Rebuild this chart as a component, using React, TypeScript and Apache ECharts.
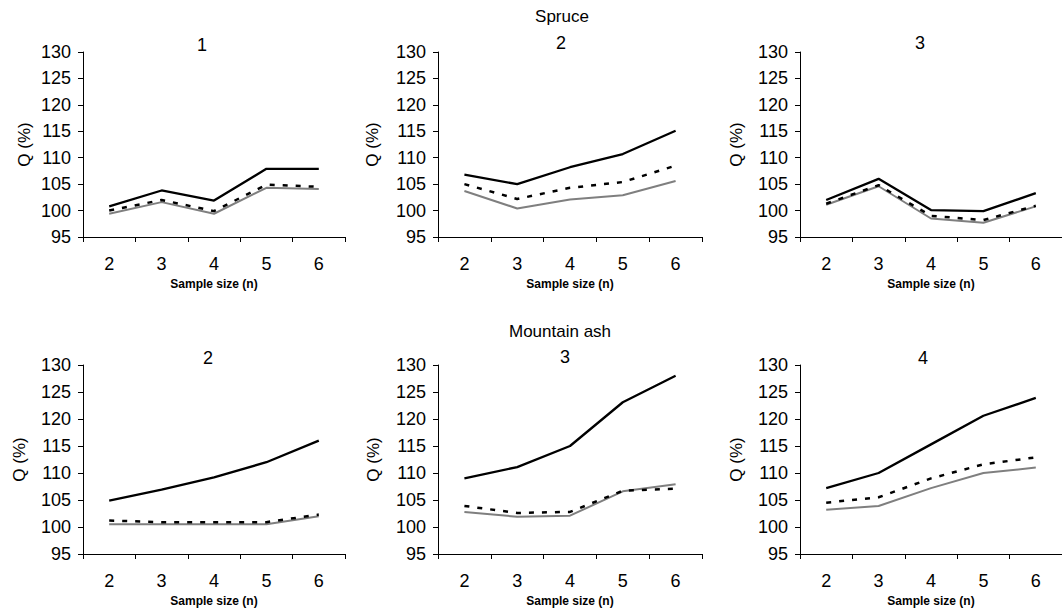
import React, { useEffect, useRef } from "react";
import * as echarts from "echarts";

const categories = ["2", "3", "4", "5", "6"];
const yTicks = { min: 95, max: 130, step: 5 };

// Spruce
const spruce1Black = [100.8, 103.8, 101.9, 107.9, 107.9];
const spruce1Dash = [100.0, 102.0, 99.9, 104.9, 104.5];
const spruce1Gray = [99.4, 101.6, 99.4, 104.3, 104.1];

const spruce2Black = [106.8, 105.0, 108.2, 110.7, 115.1];
const spruce2Dash = [105.0, 102.2, 104.3, 105.4, 108.5];
const spruce2Gray = [103.7, 100.4, 102.1, 102.9, 105.6];

const spruce3Black = [102.0, 106.0, 100.1, 99.9, 103.3];
const spruce3Dash = [101.3, 104.8, 99.0, 98.2, 100.9];
const spruce3Gray = [101.1, 104.6, 98.5, 97.7, 100.8];

// Mountain ash
const ash2Black = [104.9, 106.9, 109.2, 112.0, 116.0];
const ash2Dash = [101.2, 100.9, 100.9, 100.9, 102.3];
const ash2Gray = [100.5, 100.5, 100.5, 100.5, 102.0];

const ash3Black = [109.0, 111.1, 115.0, 123.1, 128.0];
const ash3Dash = [103.9, 102.6, 102.8, 106.7, 107.1];
const ash3Gray = [102.8, 101.9, 102.1, 106.6, 107.9];

const ash4Black = [107.2, 110.0, 115.3, 120.6, 123.9];
const ash4Dash = [104.5, 105.5, 109.0, 111.6, 112.9];
const ash4Gray = [103.2, 103.9, 107.2, 110.0, 111.0];

const panelTitles = ["1", "2", "3", "2", "3", "4"];
const groupTitles = ["Spruce", "Mountain ash"];
const xName = "Sample size (n)";
const yName = "Q (%)";

const panelData = [
  [spruce1Black, spruce1Dash, spruce1Gray],
  [spruce2Black, spruce2Dash, spruce2Gray],
  [spruce3Black, spruce3Dash, spruce3Gray],
  [ash2Black, ash2Dash, ash2Gray],
  [ash3Black, ash3Dash, ash3Gray],
  [ash4Black, ash4Dash, ash4Gray],
];

const FONT = "'Liberation Sans', Arial, sans-serif";

export default function App() {
  const ref = useRef<HTMLDivElement>(null);
  useEffect(() => {
    if (!ref.current) return;
    const chart = echarts.init(ref.current, undefined, { renderer: "svg" });

    const cols = [
      { left: 83, width: 262 },
      { left: 438, width: 264 },
      { left: 800, width: 262 },
    ];
    const rows = [
      { top: 52, height: 185 },
      { top: 365, height: 189 },
    ];
    const yNameGaps = [50, 57, 55, 55, 56, 55];
    const titlePos = [
      [202, 45],
      [561, 43],
      [920, 43],
      [208, 358],
      [565, 357],
      [923, 358],
    ];

    const grids: any[] = [];
    const xAxes: any[] = [];
    const yAxes: any[] = [];
    const series: any[] = [];
    const graphics: any[] = [];

    panelData.forEach((lines, i) => {
      const c = cols[i % 3];
      const r = rows[Math.floor(i / 3)];
      grids.push({ left: c.left, width: c.width, top: r.top, height: r.height, containLabel: false });
      xAxes.push({
        type: "category",
        gridIndex: i,
        data: categories,
        boundaryGap: true,
        axisLine: { lineStyle: { color: "#000", width: 1 } },
        axisTick: { show: true, length: 5, lineStyle: { color: "#000" } },
        axisLabel: { color: "#000", fontSize: 18, fontFamily: FONT, margin: 18 },
        name: xName,
        nameLocation: "middle",
        nameGap: 41,
        nameTextStyle: { color: "#000", fontSize: 12, fontWeight: "bold", fontFamily: FONT },
        splitLine: { show: false },
      });
      yAxes.push({
        type: "value",
        gridIndex: i,
        min: yTicks.min,
        max: yTicks.max,
        interval: yTicks.step,
        axisLine: { show: true, lineStyle: { color: "#000", width: 1 } },
        axisTick: { show: true, length: 5, lineStyle: { color: "#000" } },
        axisLabel: { color: "#000", fontSize: 18, fontFamily: FONT, margin: 12 },
        splitLine: { show: false },
        name: yName,
        nameLocation: "middle",
        nameGap: yNameGaps[i],
        nameRotate: 90,
        nameTextStyle: { color: "#000", fontSize: 17, fontFamily: FONT },
      });
      const styles = [
        { color: "#000", width: 2.3, type: "solid" },
        { color: "#000", width: 2.5, type: [5, 8] },
        { color: "#7f7f7f", width: 2, type: "solid" },
      ];
      const order = [2, 1, 0];
      order.forEach((k) => {
        series.push({
          type: "line",
          xAxisIndex: i,
          yAxisIndex: i,
          data: lines[k],
          showSymbol: false,
          symbol: "none",
          lineStyle: styles[k],
          z: 2 + (2 - k),
        });
      });
      graphics.push({
        type: "text",
        x: titlePos[i][0],
        y: titlePos[i][1],
        style: {
          text: panelTitles[i],
          font: `18px ${FONT}`,
          fill: "#000",
          align: "center",
          verticalAlign: "middle",
        },
      });
    });

    graphics.push({
      type: "text",
      x: 562,
      y: 16,
      style: { text: groupTitles[0], font: `17px ${FONT}`, fill: "#000", align: "center", verticalAlign: "middle" },
    });
    graphics.push({
      type: "text",
      x: 560,
      y: 331,
      style: { text: groupTitles[1], font: `17px ${FONT}`, fill: "#000", align: "center", verticalAlign: "middle" },
    });

    chart.setOption({
      animation: false,
      backgroundColor: "#fff",
      grid: grids,
      xAxis: xAxes,
      yAxis: yAxes,
      series,
      graphic: graphics,
    });
    return () => chart.dispose();
  }, []);
  return (
    <div
      ref={ref}
      style={{ position: "fixed", left: 0, top: 0, width: 1062, height: 609, background: "#fff" }}
    />
  );
}
